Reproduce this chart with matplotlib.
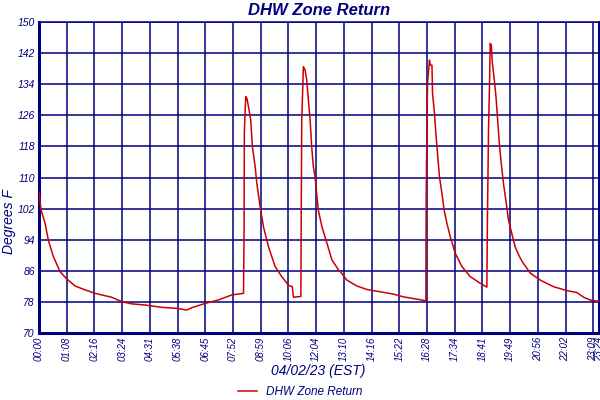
import matplotlib
matplotlib.use("Agg")
import matplotlib.pyplot as plt
import numpy as np

NAVY = "#000080"
RED = "#cc0000"

# sample position (in tick intervals) and temperature
pos = [0.0, 0.07, 0.22, 0.34, 0.52, 0.76, 1.0, 1.30, 1.66, 2.02, 2.62, 3.01,
       3.35, 3.83, 4.43, 5.03, 5.33, 5.51, 5.99, 6.47, 6.96, 7.38, 7.40, 7.41,
       7.46, 7.50, 7.56, 7.64, 7.70, 7.80, 7.86, 7.98, 8.10, 8.28, 8.52, 8.76,
       9.00, 9.14, 9.18, 9.45, 9.46, 9.48, 9.54, 9.60, 9.66, 9.72, 9.78, 9.84,
       9.90, 9.96, 10.03, 10.08, 10.21, 10.39, 10.57, 10.81, 10.87, 11.11,
       11.47, 11.83, 12.31, 12.79, 13.15, 13.64, 13.94, 13.96, 13.97, 14.0,
       14.02, 14.05, 14.09, 14.12, 14.18, 14.20, 14.27, 14.33, 14.38, 14.45,
       14.54, 14.62, 14.72, 14.84, 15.02, 15.26, 15.56, 15.92, 16.16, 16.18,
       16.22, 16.26, 16.28, 16.32, 16.36, 16.43, 16.49, 16.55, 16.61, 16.68,
       16.76, 16.86, 16.94, 17.06, 17.18, 17.34, 17.48, 17.73, 18.09, 18.57,
       19.05, 19.41, 19.65, 19.89, 20.13, 20.18]
temp = [106.3, 101.8, 98.2, 93.8, 89.6, 85.8, 83.9, 82.1, 81.1, 80.2, 79.2, 78.0,
        77.5, 77.2, 76.6, 76.3, 75.9, 76.5, 77.6, 78.5, 79.8, 80.2, 96.8, 121.8,
        130.8, 130.4, 128.2, 124.8, 117.9, 112.8, 108.5, 102.5, 97.3, 92.2, 87.1, 84.5,
        82.3, 81.9, 79.2, 79.4, 96.9, 124.4, 138.5, 137.7, 135.1, 129.9, 125.2, 117.9,
        112.8, 110.2, 105.1, 101.6, 97.3, 93.1, 88.8, 86.2, 85.8, 83.6,
        82.1, 81.2, 80.6, 80.0, 79.3, 78.7, 78.3, 78.1, 104.0, 124.8,
        134.2, 136.8, 140.2, 138.9, 138.9, 131.7, 126.5, 120.5, 116.2, 110.2,
        105.9, 101.6, 98.2, 94.8, 90.5, 87.1, 84.5, 82.8, 81.8, 98.2,
        122.2, 135.1, 144.5, 144.1, 139.4, 135.1, 130.8, 124.8, 118.8, 113.6,
        108.5, 103.4, 99.1, 95.6, 92.2, 89.6, 87.9, 85.4, 83.6, 81.9,
        80.9, 80.4, 79.2, 78.5, 78.2, 78.2]

tick_labels = ["00:00", "01:08", "02:16", "03:24", "04:31", "05:38", "06:45",
               "07:52", "08:59", "10:06", "12:04", "13:10", "14:16", "15:22",
               "16:28", "17:34", "18:41", "19:49", "20:56", "22:02", "23:09", "23:24"]
y_ticks = [70, 78, 86, 94, 102, 110, 118, 126, 134, 142, 150]

plt.rcParams['font.family'] = ['Liberation Sans', 'DejaVu Sans']

fig = plt.figure(figsize=(6, 4), dpi=100)
ax = fig.add_axes([0.065, 0.1675, 0.933, 0.7775])

ax.plot(pos, temp, color=RED, linewidth=1.1, label="DHW Zone Return", zorder=3)

tick_pos = list(np.arange(21)) + [20.2]
ax.set_xticks(tick_pos)
ax.set_xticklabels(tick_labels, rotation=90, fontsize=7, style='italic', color=NAVY)
ax.set_yticks(y_ticks)
ax.set_yticklabels([str(v) for v in y_ticks], fontsize=7.5, style='italic', color=NAVY)
ax.set_xlim(0, 20.2)
ax.set_ylim(70, 150)
ax.tick_params(length=0, pad=3)

ax.grid(True, color=NAVY, linewidth=1.1)
ax.set_axisbelow(True)
for side in ax.spines:
    ax.spines[side].set_color(NAVY)
    ax.spines[side].set_linewidth(1.1)
ax.spines['left'].set_linewidth(2.2)
ax.spines['bottom'].set_linewidth(2.2)
ax.spines['right'].set_linewidth(2.2)

ax.set_title("DHW Zone Return", fontsize=12, fontweight='bold', style='italic',
             color=NAVY, pad=5)
fig.text(0.015, 0.445, "Degrees F", rotation=90, ha='center', va='center',
         fontsize=10, style='italic', color=NAVY)
fig.text(0.53, 0.0725, "04/02/23 (EST)", ha='center', va='center',
         fontsize=10, style='italic', color=NAVY)

leg = fig.legend(loc='center', bbox_to_anchor=(0.5, 0.02), frameon=False,
                 fontsize=8.5, handlelength=1.6, borderpad=0)
for t in leg.get_texts():
    t.set_color(NAVY)
    t.set_style('italic')

fig.savefig("out.png", dpi=100)
